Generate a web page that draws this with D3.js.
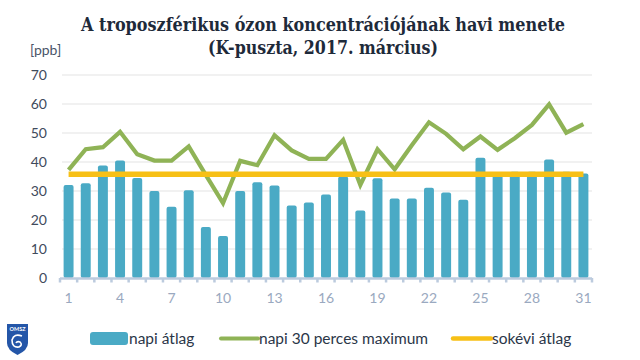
<!DOCTYPE html>
<html><head><meta charset="utf-8">
<script src="https://cdn.jsdelivr.net/npm/d3@7"></script>
<style>body{margin:0;background:#fff}svg{display:block}</style>
</head><body>
<svg id="c" width="640" height="360"></svg>
<script>
const days = d3.range(1, 32);
const napiAtlag = [32.1,32.7,38.8,40.5,34.5,30.0,24.6,30.3,17.6,14.5,30.0,33.0,31.9,25.0,26.0,28.8,35.0,23.3,34.4,27.4,27.4,31.1,29.5,27.0,41.5,35.5,36.6,36.6,40.9,36.6,36.0];
const napiMax = [37.3,44.4,45.1,50.4,42.7,40.5,40.5,45.4,35.5,25.8,40.4,38.9,49.2,44.0,41.1,41.1,47.6,32.1,44.4,37.5,45.8,53.7,49.7,44.4,48.8,44.2,48.2,52.8,59.9,50.1,53.1];
const sokeviAtlag = days.map(() => 35.8);
const yTicks = [0,10,20,30,40,50,60,70];
const xTickLabels = [1,4,7,10,13,16,19,22,25,28,31];
const titleLines = ["A troposzférikus ózon koncentrációjának havi menete","(K-puszta, 2017. március)"];
const unitLabel = "[ppb]";
const legendLabels = ["napi átlag","napi 30 perces maximum","sokévi átlag"];

const C_BAR = "#4aaac5", C_MAX = "#8fb356", C_AVG = "#f7c016";
const svg = d3.select("#c");
const x = d3.scaleBand().domain(days).range([60, 592]).paddingInner(0.42).paddingOuter(0.21);
const y = d3.scaleLinear().domain([0, 70]).range([278, 75]);
const cx = d => x(d) + x.bandwidth() / 2;

// title
svg.append("g").selectAll("text").data(titleLines).join("text")
  .attr("x", 323).attr("y", (d, i) => 31 + i * 23)
  .attr("text-anchor", "middle")
  .attr("font-family", "'DejaVu Serif', serif").attr("font-weight", "bold")
  .attr("font-size", 18.5).attr("fill", "#1e2a3a")
  .attr("textLength", (d, i) => i === 0 ? 484 : 230).attr("lengthAdjust", "spacingAndGlyphs")
  .text(d => d);

svg.append("text").attr("x", 30).attr("y", 55).attr("font-family", "Lato, sans-serif")
  .attr("font-size", 14).attr("fill", "#4a5568").text(unitLabel);

// grid
svg.append("g").selectAll("line").data(yTicks.filter(t => t > 0)).join("line")
  .attr("x1", 62).attr("x2", 592).attr("y1", d => y(d)).attr("y2", d => y(d))
  .attr("stroke", "#e3e3e3").attr("stroke-width", 1);

// y labels
svg.append("g").selectAll("text").data(yTicks).join("text")
  .attr("x", 47).attr("y", d => y(d)).attr("dy", "0.35em").attr("text-anchor", "end")
  .attr("font-family", "Lato, sans-serif").attr("font-size", 14).attr("fill", "#3f4b5c")
  .text(d => d);

// bars
svg.append("g").selectAll("rect").data(days).join("rect")
  .attr("x", d => x(d)).attr("width", x.bandwidth())
  .attr("y", (d, i) => y(napiAtlag[i])).attr("height", (d, i) => y(0) - y(napiAtlag[i]))
  .attr("rx", 2).attr("fill", C_BAR);

// x axis
const axisG = svg.append("g");
axisG.append("line").attr("x1", 60).attr("x2", 592).attr("y1", 278.5).attr("y2", 278.5)
  .attr("stroke", "#bccbde").attr("stroke-width", 2.5);
const bounds = days.map(d => x(d) - x.step() * x.paddingInner() / 2).concat([592]);
axisG.selectAll("line.t").data(bounds).join("line").attr("class", "t")
  .attr("x1", d => d).attr("x2", d => d).attr("y1", 278).attr("y2", 282.5)
  .attr("stroke", "#bccbde").attr("stroke-width", 2.5);
axisG.selectAll("text").data(xTickLabels).join("text")
  .attr("x", d => cx(d)).attr("y", 298).attr("dy", "0.35em").attr("text-anchor", "middle")
  .attr("font-family", "Lato, sans-serif").attr("font-size", 14).attr("fill", "#9aa9c0")
  .text(d => d);

// max line
svg.append("path").datum(days).attr("fill", "none").attr("stroke", C_MAX)
  .attr("stroke-width", 4.2).attr("stroke-linejoin", "miter")
  .attr("d", d3.line().x(d => cx(d)).y((d, i) => y(napiMax[i])));

// long-term average
svg.append("path").datum(days).attr("fill", "none").attr("stroke", C_AVG)
  .attr("stroke-width", 5.5)
  .attr("d", d3.line().x(d => cx(d)).y((d, i) => y(sokeviAtlag[i])));

// legend
const lg = svg.append("g").attr("font-family", "Lato, sans-serif").attr("font-size", 15.5).attr("fill", "#2b3648");
lg.append("rect").attr("x", 90).attr("y", 332).attr("width", 38).attr("height", 13).attr("rx", 3).attr("fill", C_BAR);
lg.append("line").attr("x1", 221).attr("x2", 258).attr("y1", 338.5).attr("y2", 338.5).attr("stroke", C_MAX).attr("stroke-width", 4).attr("stroke-linecap", "round");
lg.append("line").attr("x1", 453).attr("x2", 491).attr("y1", 338.5).attr("y2", 338.5).attr("stroke", C_AVG).attr("stroke-width", 4.5).attr("stroke-linecap", "round");
lg.selectAll("text").data(legendLabels).join("text")
  .attr("x", (d, i) => [129, 259, 492][i]).attr("y", 338.5).attr("dy", "0.35em")
  .text(d => d);

// OMSZ logo
const logo = svg.append("g");
logo.append("path").attr("d", "M7,324 L28,324 L28,343 Q28,350 17.5,355 Q7,350 7,343 Z").attr("fill", "#2456a8");
logo.append("text").attr("x", 17.5).attr("y", 331).attr("text-anchor", "middle")
  .attr("font-family", "Lato, sans-serif").attr("font-weight", "bold").attr("font-size", 5.5).attr("fill", "#fff").text("OMSZ");
logo.append("path").attr("d", "M22,336 Q14,333 12,340 Q12,348 19,347 Q23,345 20,342 Q17,341 16,343")
  .attr("fill", "none").attr("stroke", "#fff").attr("stroke-width", 1.6);
</script>
</body></html>
